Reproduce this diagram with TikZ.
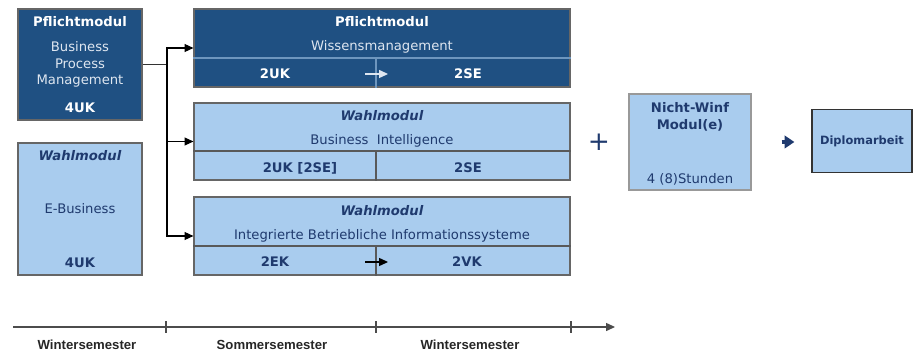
\documentclass[tikz,border=0pt]{standalone}
\usepackage{fontspec}
\setmainfont{DejaVu Sans}
\newfontfamily\axisfont{Liberation Sans}
\usetikzlibrary{positioning}
\usetikzlibrary{arrows.meta}
\definecolor{darkblue}{RGB}{31,80,130}
\definecolor{lightblue}{RGB}{169,204,238}
\definecolor{navytext}{RGB}{31,58,110}
\definecolor{paletext}{RGB}{222,230,240}
\definecolor{splitline}{RGB}{110,150,190}

\begin{document}
\begin{tikzpicture}[x=0.02cm, y=-0.02cm,
darknode/.style={rectangle, draw=black!60, fill=darkblue, line width=0.7pt},
lightnode/.style={rectangle, draw=black!60, fill=lightblue, line width=0.7pt},
whitetitle/.style={inner sep=0pt, text=white, font=\fontsize{7.5}{9.4}\selectfont\bfseries},
paletextnode/.style={inner sep=0pt, text=paletext, align=center, font=\fontsize{7.5}{9.4}\selectfont},
navytitle/.style={inner sep=0pt, text=navytext, align=center, font=\fontsize{7.5}{9.6}\selectfont\bfseries\itshape},
navybold/.style={inner sep=0pt, text=navytext, align=center, font=\fontsize{7.5}{9.6}\selectfont\bfseries},
navytextnode/.style={inner sep=0pt, text=navytext, align=center, font=\fontsize{7.5}{9.4}\selectfont},
axislabel/.style={inner sep=0pt, text=black!85, font=\axisfont\fontsize{7.5}{9}\selectfont\bfseries},
connector/.style={line width=0.6pt, -{Triangle[length=5pt,width=4.5pt]}},
]
\useasboundingbox (0,0) rectangle (919,351);

%Nodes
\node[darknode, minimum width=2.48cm, minimum height=2.22cm] (bpm) at (80,64.5) {};
\node[whitetitle] (bpmtitle) at (80,22) {Pflichtmodul};
\node[paletextnode] (bpmname) at (80,64.5) {Business\\Process\\Management};
\node[whitetitle] (bpmuk) at (80,108) {4UK};

\node[lightnode, minimum width=2.48cm, minimum height=2.64cm] (ebus) at (80,209) {};
\node[navytitle] (ebustitle) at (80,156) {Wahlmodul};
\node[navytextnode] (ebusname) at (80,209) {E-Business};
\node[navybold] (ebusuk) at (80,263) {4UK};

\node[darknode, minimum width=7.52cm, minimum height=1.56cm] (wissen) at (382,48) {};
\node[whitetitle] (wissentitle) at (382,22) {Pflichtmodul};
\node[paletextnode] (wissenname) at (382,47) {Wissensmanagement};
\coordinate (wissensplit) at (376,58);
\node[whitetitle] (wissenuk) at (275,74) {2UK};
\node[whitetitle] (wissense) at (468,74) {2SE};
\coordinate (wissenfrom) at (365,74);
\coordinate (wissento) at (388,74);

\node[lightnode, minimum width=7.52cm, minimum height=1.54cm] (bintel) at (382,141.5) {};
\node[navytitle] (binteltitle) at (382,116) {Wahlmodul};
\node[navytextnode] (bintelname) at (382,141) {Business\ \ Intelligence};
\coordinate (bintelsplit) at (376,151);
\node[navybold] (binteluk) at (300,168) {2UK [2SE]};
\node[navybold] (bintelse) at (468,168) {2SE};

\node[lightnode, minimum width=7.52cm, minimum height=1.56cm] (ibis) at (382,236) {};
\node[navytitle] (ibistitle) at (382,211) {Wahlmodul};
\node[navytextnode] (ibisname) at (382,236) {Integrierte Betriebliche Informationssysteme};
\coordinate (ibissplit) at (376,246);
\node[navybold] (ibisek) at (275,262) {2EK};
\node[navybold] (ibisvk) at (467,262) {2VK};
\coordinate (ibisfrom) at (365,262);
\coordinate (ibisto) at (388,262);

\node[inner sep=0pt, text=navytext, font=\fontsize{15}{15}\selectfont] (plus) at (599,142) {+};

\node[lightnode, draw=black!40, minimum width=2.44cm, minimum height=1.92cm] (nichtwinf) at (690,142) {};
\node[navybold, font=\fontsize{7.5}{9.8}\selectfont\bfseries] (nichtwinftitle) at (690,116.5) {Nicht-Winf\\Modul(e)};
\node[navytextnode] (nichtwinfhours) at (690,179) {4 (8)Stunden};

\node[lightnode, draw=black!80, minimum width=2.0cm, minimum height=1.26cm] (diplom) at (862,141) {};
\node[navybold, font=\fontsize{6.5}{8}\selectfont\bfseries] (diplomtext) at (862,141) {Diplomarbeit};

\coordinate (junction) at (167,64.5);
\coordinate (axisstart) at (13,327);
\coordinate (axisend) at (615,327);
\node[axislabel] (winter1) at (87,345) {Wintersemester};
\node[axislabel] (sommer) at (272,345) {Sommersemester};
\node[axislabel] (winter2) at (470,345) {Wintersemester};

%Lines
\draw[splitline, line width=0.8pt] (wissen.west |- wissensplit) -- (wissen.east |- wissensplit);
\draw[splitline, line width=0.8pt] (wissensplit) -- (wissensplit |- wissen.south);
\draw[black!65, line width=0.7pt] (bintel.west |- bintelsplit) -- (bintel.east |- bintelsplit);
\draw[black!65, line width=0.7pt] (bintelsplit) -- (bintelsplit |- bintel.south);
\draw[black!65, line width=0.7pt] (ibis.west |- ibissplit) -- (ibis.east |- ibissplit);
\draw[black!65, line width=0.7pt] (ibissplit) -- (ibissplit |- ibis.south);

\draw[line width=0.6pt, black!80] (bpm.east) -- (junction);
\draw[connector] (junction) |- (wissen.west);
\draw[connector] (junction) |- (bintel.west);
\draw[connector] (junction) |- (ibis.west);
\draw[connector, paletext] (wissenfrom) -- (wissento);
\draw[connector] (ibisfrom) -- (ibisto);
\draw[navytext, line width=1.8pt, -{Triangle[length=5.5pt,width=7pt]}, shorten <=0.6cm, shorten >=0.34cm] (nichtwinf.east) -- (nichtwinf.east -| diplom.west);

\draw[black!70, line width=0.6pt, -{Triangle[length=5pt,width=4.5pt]}] (axisstart) -- (axisend);
\foreach \t in {166, 376, 571}
    \draw[black!70, line width=0.6pt] (\t,321) -- (\t,333);

\end{tikzpicture}
\end{document}
